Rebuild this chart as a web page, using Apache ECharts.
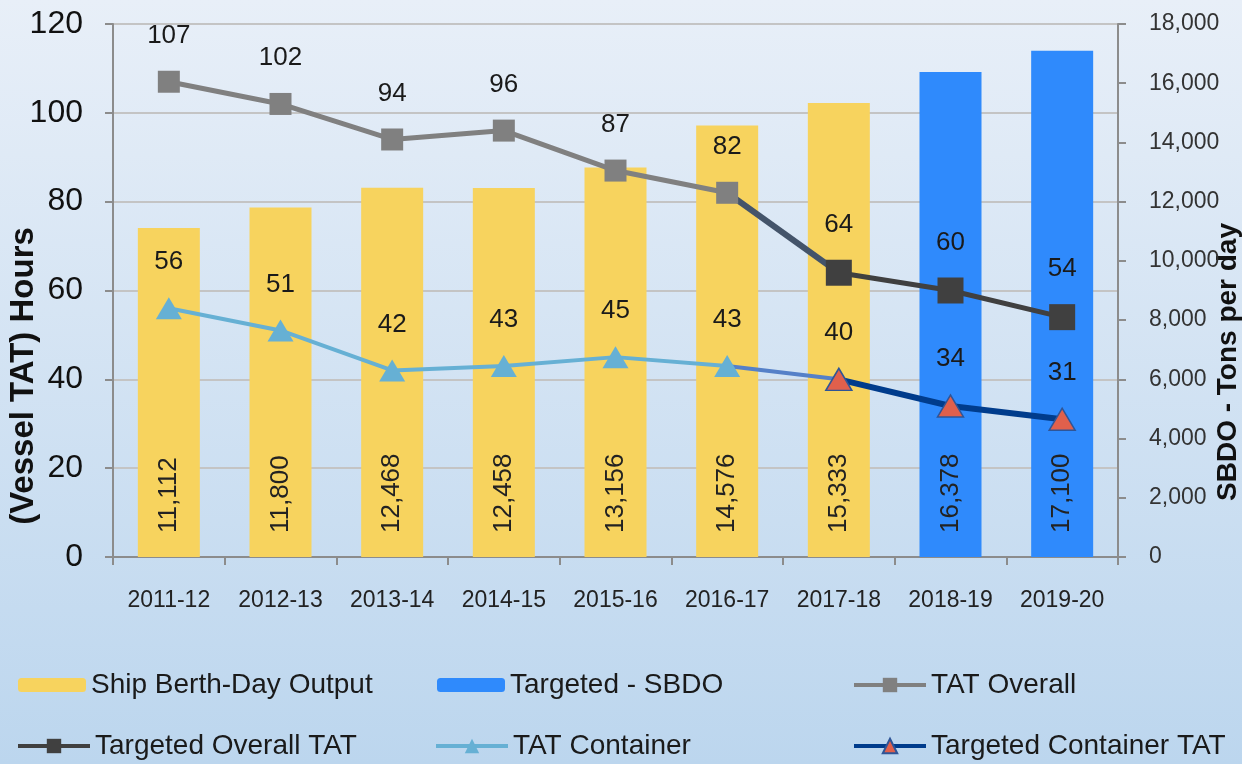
<!DOCTYPE html>
<html>
<head>
<meta charset="utf-8">
<title>Vessel TAT and SBDO</title>
<script src="https://cdn.jsdelivr.net/npm/echarts@6/dist/echarts.min.js"></script>
<style>
    html, body { margin: 0; padding: 0; }
    #chart { width: 1242px; height: 764px; }
</style>
</head>
<body>
<div id="chart"></div>
<script>
const categories = ["2011-12", "2012-13", "2013-14", "2014-15", "2015-16", "2016-17", "2017-18", "2018-19", "2019-20"];
const sbdoActual = [11112, 11800, 12468, 12458, 13156, 14576, 15333, null, null];
const sbdoTarget = [null, null, null, null, null, null, null, 16378, 17100];
const tatOverall = [107, 102, 94, 96, 87, 82, null, null, null];
const tatOverallTarget = [null, null, null, null, null, null, 64, 60, 54];
const tatContainer = [56, 51, 42, 43, 45, 43, null, null, null];
const tatContainerTarget = [null, null, null, null, null, null, 40, 34, 31];

// link actual -> targeted between 2016-17 and 2017-18
const lastActual = 5;
const linkOf = (actual, target) =>
    categories.map((c, i) => (i === lastActual ? actual[i] : i === lastActual + 1 ? target[i] : null));

const font = "Liberation Sans";
const fmtThousands = (v) => String(v).replace(/\B(?=(\d{3})+(?!\d))/g, ",");

const lineLabel = {
    show: true,
    position: "top",
    distance: 22,
    fontSize: 26,
    fontFamily: font,
    color: "#1a1a1a",
};
const barLabel = {
    show: true,
    position: "insideBottom",
    rotate: 90,
    align: "left",
    verticalAlign: "middle",
    distance: 24,
    fontSize: 26,
    fontFamily: font,
    color: "#222",
    formatter: (p) => fmtThousands(p.value),
};

const legendText = { fontSize: 28, fontFamily: font, color: "#1a1a1a" };
const makeLegend = (name, left, top, isLine) => ({
    data: [name],
    left: left,
    top: top,
    padding: 0,
    itemWidth: isLine ? 72 : 68,
    itemHeight: isLine ? 18 : 14,
    itemGap: 0,
    lineStyle: isLine ? { width: 4 } : undefined,
    textStyle: legendText,
});

const chart = echarts.init(document.getElementById("chart"));

const option = {
    backgroundColor: new echarts.graphic.LinearGradient(0, 0, 0, 1, [
        { offset: 0, color: "#e8eff8" },
        { offset: 1, color: "#bcd6ee" },
    ]),
    animation: false,
    grid: { left: 113, right: 124, top: 24, bottom: 207 },
    legend: [
        makeLegend("Ship Berth-Day Output", 18, 671, false),
        makeLegend("Targeted - SBDO", 437, 671, false),
        makeLegend("TAT Overall", 852, 671, true),
        makeLegend("Targeted Overall TAT", 16, 732, true),
        makeLegend("TAT Container", 434, 732, true),
        makeLegend("Targeted Container TAT", 852, 732, true),
    ],
    graphic: [
        {
            type: "text",
            x: 24,
            y: 376,
            rotation: Math.PI / 2,
            style: {
                text: "(Vessel TAT) Hours",
                font: "bold 33px 'Liberation Sans'",
                fill: "#111",
                align: "center",
                verticalAlign: "middle",
            },
        },
        {
            type: "text",
            x: 1228,
            y: 362,
            rotation: Math.PI / 2,
            style: {
                text: "SBDO - Tons per day",
                font: "bold 28px 'Liberation Sans'",
                fill: "#111",
                align: "center",
                verticalAlign: "middle",
            },
        },
    ],
    xAxis: {
        type: "category",
        data: categories,
        axisLine: { lineStyle: { color: "#8c8c8c", width: 2 } },
        axisTick: { show: true, interval: 0, length: 8, lineStyle: { color: "#8c8c8c", width: 2 } },
        axisLabel: { interval: 0, fontSize: 23, fontFamily: font, color: "#222", margin: 32 },
    },
    yAxis: [
        {
            type: "value",
            min: 0,
            max: 120,
            interval: 20,
            axisLine: { show: true, lineStyle: { color: "#8c8c8c", width: 2 } },
            axisTick: { show: true, length: 8, lineStyle: { color: "#8c8c8c", width: 2 } },
            axisLabel: { fontSize: 32, fontFamily: font, color: "#111", margin: 30 },
            splitLine: { lineStyle: { color: "#c4c4c4", width: 2 } },
        },
        {
            type: "value",
            min: 0,
            max: 18000,
            interval: 2000,
            axisLine: { show: true, lineStyle: { color: "#8c8c8c", width: 2 } },
            axisTick: { show: true, length: 8, lineStyle: { color: "#8c8c8c", width: 2 } },
            axisLabel: {
                fontSize: 23,
                fontFamily: font,
                color: "#333",
                margin: 31,
                formatter: fmtThousands,
            },
            splitLine: { show: false },
        },
    ],
    series: [
        {
            name: "Ship Berth-Day Output",
            type: "bar",
            yAxisIndex: 1,
            data: sbdoActual,
            barWidth: 62,
            barGap: "-100%",
            itemStyle: { color: "#f7d35e" },
            label: barLabel,
        },
        {
            name: "Targeted - SBDO",
            type: "bar",
            yAxisIndex: 1,
            data: sbdoTarget,
            barWidth: 62,
            barGap: "-100%",
            itemStyle: { color: "#2f8afc" },
            label: barLabel,
        },
        {
            name: "overall-link",
            type: "line",
            data: linkOf(tatOverall, tatOverallTarget),
            showSymbol: false,
            lineStyle: { color: "#44546a", width: 6 },
            z: 3,
        },
        {
            name: "container-link",
            type: "line",
            data: linkOf(tatContainer, tatContainerTarget),
            showSymbol: false,
            lineStyle: { color: "#5580c8", width: 4 },
            z: 3,
        },
        {
            name: "TAT Overall",
            type: "line",
            data: tatOverall,
            symbol: "rect",
            symbolSize: 22,
            itemStyle: { color: "#808080" },
            lineStyle: { color: "#808080", width: 5 },
            label: lineLabel,
            z: 4,
        },
        {
            name: "Targeted Overall TAT",
            type: "line",
            data: tatOverallTarget,
            symbol: "rect",
            symbolSize: 26,
            itemStyle: { color: "#404040" },
            lineStyle: { color: "#404040", width: 5 },
            label: lineLabel,
            z: 4,
        },
        {
            name: "TAT Container",
            type: "line",
            data: tatContainer,
            symbol: "triangle",
            symbolSize: [26, 22],
            itemStyle: { color: "#66b0d4" },
            lineStyle: { color: "#66b0d4", width: 4 },
            label: lineLabel,
            z: 4,
        },
        {
            name: "Targeted Container TAT",
            type: "line",
            data: tatContainerTarget,
            symbol: "triangle",
            symbolSize: [26, 22],
            itemStyle: { color: "#e0604c", borderColor: "#2f5597", borderWidth: 1.5 },
            lineStyle: { color: "#003c8c", width: 6 },
            label: lineLabel,
            z: 4,
        },
    ],
};

chart.setOption(option);
</script>
</body>
</html>
